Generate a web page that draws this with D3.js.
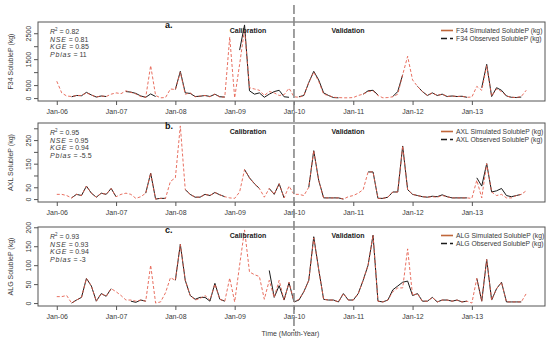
<!DOCTYPE html>
<html><head><meta charset="utf-8">
<script src="https://cdn.jsdelivr.net/npm/d3@7"></script>
<style>body{margin:0;background:#fff}svg{display:block;font-family:"Liberation Sans",Arial,sans-serif}</style>
</head><body><svg id="chart" width="550" height="344"></svg>
<script>
// ---------- DATA ----------
const monthIndex = d3.range(96);               // Jan-06 ... Dec-13 (monthly)
const tickMonths = [0, 12, 24, 36, 48, 60, 72, 84];
const tickLabels = ["Jan-06","Jan-07","Jan-08","Jan-09","Jan-10","Jan-11","Jan-12","Jan-13"];
const splitMonth = 48;                          // Jan-10: calibration / validation
const periodLabels = ["Calibration", "Validation"];

const f34Sim = [650,200,80,60,100,100,200,120,40,80,60,150,200,170,280,220,160,60,30,1250,100,10,20,350,
  330,1000,150,200,50,80,100,50,150,40,40,2350,10,1300,2650,400,350,300,100,250,200,100,130,380,
  50,30,100,600,1000,650,150,100,30,20,10,10,20,100,150,250,280,100,10,20,50,150,900,1610,
  700,450,250,100,200,100,150,60,80,60,70,30,40,450,300,1250,80,350,250,80,30,20,60,300];
const f34Obs = [null,null,null,50,100,90,220,120,40,80,60,null,null,null,250,230,180,80,30,160,60,null,null,null,
  330,1030,200,180,60,70,100,60,150,50,40,null,null,1850,2820,280,150,200,30,150,250,300,50,30,
  null,50,100,600,1030,700,200,100,20,10,null,null,null,null,150,280,300,120,null,null,60,250,900,null,
  null,450,250,100,200,100,150,60,80,60,70,30,null,null,400,1300,60,400,300,80,30,20,40,null];

const axlSim = [20,20,15,5,20,15,55,25,8,25,20,45,10,20,25,20,3,10,25,110,0,3,3,75,
  90,310,40,20,8,8,20,15,28,18,10,5,3,30,125,90,65,45,8,45,20,65,5,55,
  20,20,15,50,205,80,5,5,5,5,0,10,15,25,40,115,115,3,3,8,30,30,225,40,
  20,15,10,8,10,8,15,10,5,5,5,5,3,80,5,150,30,15,20,5,5,15,20,35];
const axlObs = [null,null,null,5,20,15,55,25,8,25,20,45,10,null,null,null,null,null,25,110,0,3,3,null,
  null,null,40,20,8,8,20,15,28,18,10,null,null,null,125,90,65,45,null,45,20,65,5,null,
  null,null,null,50,205,80,5,5,5,5,0,null,null,null,null,115,115,3,3,8,30,30,225,40,
  20,15,10,8,12,10,18,10,5,5,5,5,null,90,55,150,30,35,45,15,10,15,20,null];

const algSim = [17,17,20,0,8,15,65,45,5,25,18,38,30,20,8,8,5,8,5,100,0,3,27,67,
  60,155,60,20,8,12,20,8,50,10,5,66,3,100,193,82,75,70,10,60,15,60,8,55,
  3,10,30,60,172,89,10,8,8,3,25,8,8,25,60,100,179,5,3,8,30,40,40,143,
  20,25,5,5,15,3,8,8,5,8,3,5,0,65,5,115,8,38,55,3,3,3,3,25];
const algObs = [null,null,null,0,8,15,65,45,5,25,18,38,null,null,null,5,2,8,5,null,null,null,null,null,
  60,155,60,20,10,15,15,5,52,10,5,null,null,null,null,null,null,null,null,86,15,46,8,54,
  3,8,30,60,175,89,10,8,8,3,25,8,8,25,60,100,179,5,3,8,35,45,55,58,
  20,25,5,5,15,3,8,8,5,8,3,5,null,65,5,115,8,38,55,3,3,3,3,null];

const siteNames = ["F34", "AXL", "ALG"];
const panelLetters = ["a.", "b.", "c."];
const r2Values = ["0.82", "0.95", "0.93"];
const nseValues = ["0.81", "0.95", "0.93"];
const kgeValues = ["0.85", "0.94", "0.94"];
const pbiasValues = ["11", "-5.5", "-3"];
const yTickValues = [[0,500,1000,1500,2000,2500],[0,50,100,150,200,250,300],[0,50,100,150,200]];
const yTickLabelsShown = [[0,500,1500,2500],[0,50,150,250],[0,50,100,150,200]];
const simSeries = [f34Sim, axlSim, algSim];
const obsSeries = [f34Obs, axlObs, algObs];

// ---------- LAYOUT ----------
const svg = d3.select("#chart");
const L = 38, R = 545, H = 79;
const tops = [22, 123, 227];
const simColor = "#e5604f", legSimColor = "#c0673a", obsColor = "#1a1a1a";
const txt = "#3a3a3a", fs = 7;

const x = d3.scaleLinear().domain([-0.04*95, 95*1.04]).range([L, R]);

siteNames.forEach((site, p) => {
  const top = tops[p], bot = top + H;
  const sim = simSeries[p], obs = obsSeries[p];
  const M = d3.max(sim.concat(obs.filter(v => v != null)));
  const y = d3.scaleLinear().domain([-0.04*M, 1.04*M]).range([bot, top]);
  const g = svg.append("g");

  g.append("rect").attr("x", L).attr("y", top).attr("width", R-L).attr("height", H)
    .attr("fill", "none").attr("stroke", "#555").attr("stroke-width", 1);

  const xa = g.append("g").attr("transform", `translate(0,${bot})`)
    .call(d3.axisBottom(x).tickValues(tickMonths).tickFormat((d,i) => tickLabels[i]).tickSize(4).tickPadding(4.5));
  xa.select(".domain").remove();
  xa.selectAll("line").attr("stroke", "#555");
  xa.selectAll("text").attr("fill", txt).attr("font-size", fs).attr("font-family", "Liberation Sans, Arial, sans-serif");

  const ya = g.append("g").attr("transform", `translate(${L},0)`)
    .call(d3.axisLeft(y).tickValues(yTickValues[p]).tickSize(4)
      .tickFormat(d => yTickLabelsShown[p].includes(d) ? d : ""));
  ya.select(".domain").remove();
  ya.selectAll("line").attr("stroke", "#555");
  ya.selectAll("text").attr("fill", txt).attr("font-size", fs).attr("font-family", "Liberation Sans, Arial, sans-serif")
    .attr("text-anchor", "middle").attr("x", 0).attr("dy", 0)
    .attr("transform", "translate(-7.5,0) rotate(-90)");

  g.append("text").attr("transform", `translate(12.5,${top + H/2}) rotate(-90)`)
    .attr("text-anchor", "middle").attr("font-size", fs).attr("fill", txt)
    .text(`${site} SolubleP (kg)`);

  const line = d3.line().defined(d => d[1] != null).x(d => x(d[0])).y(d => y(d[1]));
  g.append("path").datum(monthIndex.map(i => [i, obs[i]])).attr("d", line)
    .attr("fill", "none").attr("stroke", obsColor).attr("stroke-width", 1);
  g.append("path").datum(monthIndex.map(i => [i, sim[i]])).attr("d", line)
    .attr("fill", "none").attr("stroke", simColor).attr("stroke-width", 0.9).attr("stroke-dasharray", "3,2");

  const sx = 50;
  const t1 = g.append("text").attr("x", sx).attr("y", top + 12).attr("font-size", fs).attr("fill", txt);
  t1.append("tspan").attr("font-style", "italic").text("R");
  t1.append("tspan").attr("font-size", 4.5).attr("dy", -3).text("2");
  t1.append("tspan").attr("dy", 3).text(" = " + r2Values[p]);
  [["NSE", nseValues[p]], ["KGE", kgeValues[p]], ["Pbias", pbiasValues[p]]].forEach((s, k) => {
    const t = g.append("text").attr("x", sx).attr("y", top + 19.5 + 7.5*k).attr("font-size", fs).attr("fill", txt);
    t.append("tspan").attr("font-style", "italic").attr("letter-spacing", 0.8).text(s[0]);
    t.append("tspan").text(" = " + s[1]);
  });

  g.append("text").attr("x", 165).attr("y", top + 6).attr("font-size", 9).attr("font-weight", "bold")
    .attr("fill", "#111").text(panelLetters[p]);

  [248, 348].forEach((cx, k) => {
    g.append("text").attr("x", cx).attr("y", top + 11.3).attr("text-anchor", "middle")
      .attr("font-size", fs).attr("font-weight", "bold").attr("fill", "#222").text(periodLabels[k]);
  });

  const ly1 = top + 8.5, ly2 = top + 16.5;
  g.append("line").attr("x1", 441).attr("x2", 453).attr("y1", ly1).attr("y2", ly1)
    .attr("stroke", legSimColor).attr("stroke-width", 1.6);
  g.append("line").attr("x1", 441).attr("x2", 453).attr("y1", ly2).attr("y2", ly2)
    .attr("stroke", obsColor).attr("stroke-width", 1.6).attr("stroke-dasharray", "6,3");
  g.append("text").attr("x", 456).attr("y", ly1 + 2.4).attr("font-size", 6.8).attr("fill", txt)
    .text(`${site} Simulated SolubleP (kg)`);
  g.append("text").attr("x", 456).attr("y", ly2 + 2.4).attr("font-size", 6.8).attr("fill", txt)
    .text(`${site} Observed SolubleP (kg)`);
});

svg.append("line").attr("x1", x(splitMonth)).attr("x2", x(splitMonth)).attr("y1", 5).attr("y2", 331)
  .attr("stroke", "#888").attr("stroke-width", 1.6).attr("stroke-dasharray", "9,3");

svg.append("text").attr("x", 290.5).attr("y", 335.5).attr("text-anchor", "middle")
  .attr("font-size", fs).attr("fill", txt).text("Time (Month-Year)");
</script></body></html>
